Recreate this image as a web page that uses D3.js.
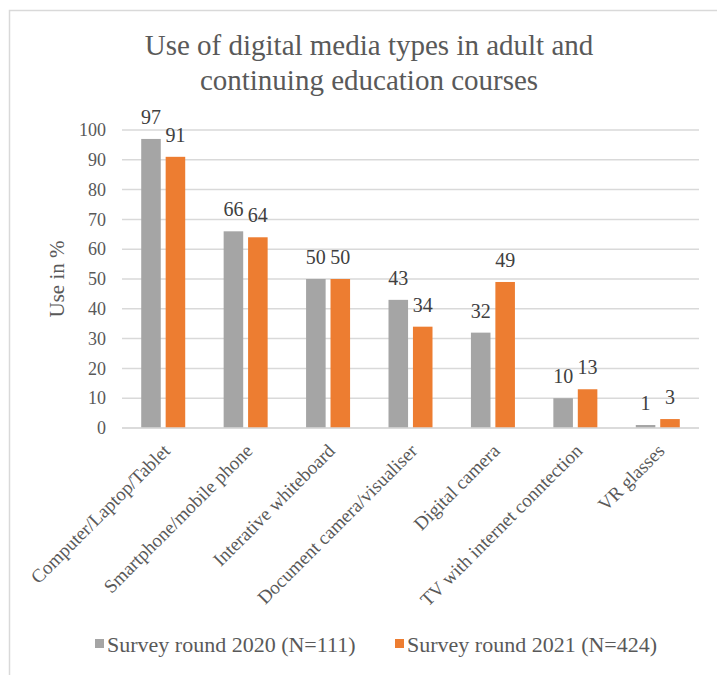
<!DOCTYPE html>
<html>
<head>
<meta charset="utf-8">
<script src="https://cdn.jsdelivr.net/npm/d3@7.9.0/dist/d3.min.js"></script>
<style>
  body { margin: 0; background: #fff; }
  svg { display: block; }
  svg text { font-family: "Liberation Serif", "Times New Roman", serif; }
</style>
</head>
<body>
<svg id="chart" width="717" height="675"></svg>
<script>
const categories = [
    'Computer/Laptop/Tablet',
    'Smartphone/mobile phone',
    'Interative whiteboard',
    'Document camera/visualiser',
    'Digital camera',
    'TV with internet conntection',
    'VR glasses'
];
const round2020 = [97, 66, 50, 43, 32, 10, 1];
const round2021 = [91, 64, 50, 34, 49, 13, 3];
const seriesNames = ['Survey round 2020 (N=111)', 'Survey round 2021 (N=424)'];
const seriesColors = ['#a5a5a5', '#ed7d31'];
const yTicks = [0, 10, 20, 30, 40, 50, 60, 70, 80, 90, 100];

const svg = d3.select('#chart');
const margin = { left: 122, right: 18, top: 130, bottom: 247 };
const width = 717 - margin.left - margin.right;
const height = 675 - margin.top - margin.bottom;

// outer chart frame
svg.append('rect')
    .attr('x', 9.5).attr('y', 10.5)
    .attr('width', 740).attr('height', 700)
    .attr('fill', 'none')
    .attr('stroke', '#d9d9d9')
    .attr('stroke-width', 1.5);

// title
svg.append('text')
    .attr('text-anchor', 'middle')
    .attr('fill', '#595959')
    .style('font-size', '29px')
    .selectAll('tspan')
    .data(['Use of digital media types in adult and', 'continuing education courses'])
    .join('tspan')
    .attr('x', 369)
    .attr('y', (d, i) => 55 + i * 35)
    .text(d => d);

const g = svg.append('g').attr('transform', `translate(${margin.left},${margin.top})`);

const x = d3.scaleBand().domain(categories).range([0, width]);
const y = d3.scaleLinear().domain([0, 100]).range([height, 0]);
const x1 = d3.scaleBand().domain([0, 1]).range([0, 44]).paddingInner(0.2);

// gridlines
g.append('g')
    .selectAll('line')
    .data(yTicks)
    .join('line')
    .attr('x1', 0).attr('x2', width)
    .attr('y1', d => y(d)).attr('y2', d => y(d))
    .attr('stroke', '#d9d9d9')
    .attr('stroke-width', 1.5);

// y axis labels
const yAxis = g.append('g')
    .call(d3.axisLeft(y).tickValues(yTicks).tickSize(0).tickPadding(16));
yAxis.select('.domain').remove();
yAxis.selectAll('text')
    .attr('fill', '#595959')
    .style('font-size', '18px')
    .style('font-family', '"Liberation Serif", serif');

// y axis title
svg.append('text')
    .attr('transform', `translate(64,${margin.top + height / 2}) rotate(-90)`)
    .attr('text-anchor', 'middle')
    .attr('fill', '#595959')
    .style('font-size', '21px')
    .text('Use in %');

// bars
const data = categories.map((c, i) => ({ cat: c, values: [round2020[i], round2021[i]] }));
const groups = g.selectAll('.grp')
    .data(data)
    .join('g')
    .attr('class', 'grp')
    .attr('transform', d => `translate(${x(d.cat) + x.bandwidth() / 2 - 22},0)`);

groups.selectAll('rect')
    .data(d => d.values.map((v, k) => ({ v, k })))
    .join('rect')
    .attr('x', d => x1(d.k))
    .attr('width', x1.bandwidth())
    .attr('y', d => y(d.v))
    .attr('height', d => height - y(d.v))
    .attr('fill', d => seriesColors[d.k]);

groups.selectAll('text')
    .data(d => d.values.map((v, k) => ({ v, k })))
    .join('text')
    .attr('x', d => x1(d.k) + x1.bandwidth() / 2)
    .attr('y', d => y(d.v) - 15)
    .attr('text-anchor', 'middle')
    .attr('fill', '#404040')
    .style('font-size', '20px')
    .text(d => d.v);

// x axis line
g.append('line')
    .attr('x1', 0).attr('x2', width)
    .attr('y1', height).attr('y2', height)
    .attr('stroke', '#d9d9d9')
    .attr('stroke-width', 1.5);

// x labels rotated
g.append('g')
    .selectAll('text')
    .data(categories)
    .join('text')
    .attr('transform', d => `translate(${x(d) + x.bandwidth() / 2 + 8},${height + 24}) rotate(-45)`)
    .attr('text-anchor', 'end')
    .attr('fill', '#595959')
    .style('font-size', '19px')
    .text(d => d);

// legend
const legend = svg.append('g').attr('transform', 'translate(95,652)');
const legendX = [0, 300];
seriesNames.forEach((name, i) => {
    legend.append('rect')
        .attr('x', legendX[i]).attr('y', -13)
        .attr('width', 9).attr('height', 9)
        .attr('fill', seriesColors[i]);
    legend.append('text')
        .attr('x', legendX[i] + 12).attr('y', 0)
        .attr('fill', '#595959')
        .style('font-size', '22px')
        .text(name);
});
</script>
</body>
</html>
